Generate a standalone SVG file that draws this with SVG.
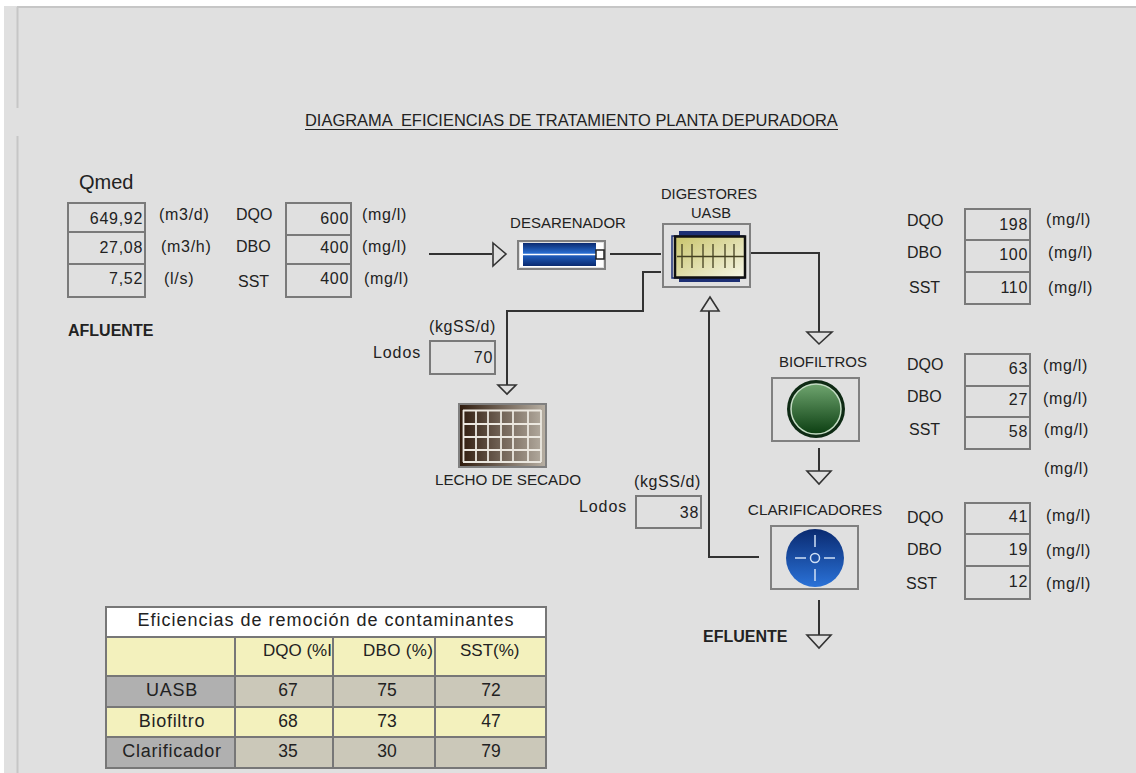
<svg xmlns="http://www.w3.org/2000/svg" width="1136" height="773" viewBox="0 0 1136 773">
<style>
text{font-family:"Liberation Sans",Arial,sans-serif;font-size:16px;fill:#222}
.e{text-anchor:end}.m{text-anchor:middle}
.v{letter-spacing:.7px}
.u{letter-spacing:.7px}
.n{font-size:15px}
.b{font-weight:bold;font-size:16px}
.r{font-size:18px;letter-spacing:.7px}
.k{font-size:17.500px}
.hd{font-size:17px}
.box{fill:#e0e0e0;stroke:#7a7a7a;stroke-width:2}
.icon{fill:#e0e0e0;stroke:#808080;stroke-width:2}
.c{fill:none;stroke:#333;stroke-width:2}
.h{fill:#e0e0e0;stroke:#333;stroke-width:1.6}
.t{stroke:#777;stroke-width:2}
.y{fill:#f3f1bd}.g{fill:#cbc8b9}.d{fill:#b0b0b0}
</style>
<defs>
<linearGradient id="blue" x1="0" y1="0" x2="0" y2="1"><stop offset="0" stop-color="#0a2a70"/><stop offset="1" stop-color="#2a72d8"/></linearGradient>
<linearGradient id="blue2" x1="0" y1="0" x2="0" y2="1"><stop offset="0" stop-color="#2060c0"/><stop offset="1" stop-color="#0a2a70"/></linearGradient>
<linearGradient id="yel" x1="0" y1="0" x2="1" y2="1"><stop offset="0" stop-color="#c9c46a"/><stop offset="1" stop-color="#f6f6e8"/></linearGradient>
<linearGradient id="grn" x1="0" y1="0" x2="0" y2="1"><stop offset="0" stop-color="#6fa56f"/><stop offset="1" stop-color="#0c3f12"/></linearGradient>
<linearGradient id="brn" x1="0" y1="0" x2="1" y2="0"><stop offset="0" stop-color="#2e1a0c"/><stop offset="1" stop-color="#b8b0a4"/></linearGradient>
</defs>
<rect width="1136" height="773" fill="#fff"/>
<rect x="4" y="6" width="1132" height="767" fill="#e0e0e0"/>
<path d="M17 7H1136" stroke="#c6c6c6" stroke-width="2" fill="none"/>
<path d="M17.500 7V108M17.500 136V773" stroke="#c6c6c6" stroke-width="2" fill="none"/>

<text id="title" x="305" y="126" style="font-size:16.450px;white-space:pre">DIAGRAMA  EFICIENCIAS DE TRATAMIENTO PLANTA DEPURADORA</text>
<path d="M305 129.500H838" stroke="#222" stroke-width="1"/>

<g id="afluente">
<text x="79" y="189" style="font-size:20px">Qmed</text>
<rect class="box" x="68" y="203" width="77" height="94"/>
<path class="box" d="M68 232H145M68 264H145"/>
<text class="e v" x="143" y="224">649,92</text><text class="e v" x="143" y="253">27,08</text><text class="e v" x="143" y="284">7,52</text>
<text class="u" x="159" y="220">(m3/d)</text><text class="u" x="161" y="252">(m3/h)</text><text class="u" x="164" y="284">(l/s)</text>
<text x="236" y="220">DQO</text><text x="236" y="252">DBO</text><text x="238" y="287">SST</text>
<rect class="box" x="286" y="203" width="65" height="94"/>
<path class="box" d="M286 235H351M286 264H351"/>
<text class="e v" x="349" y="224">600</text><text class="e v" x="349" y="253">400</text><text class="e v" x="349" y="284">400</text>
<text class="u" x="362" y="220">(mg/l)</text><text class="u" x="362" y="252">(mg/l)</text><text class="u" x="364" y="284">(mg/l)</text>
<text class="b" x="68" y="336">AFLUENTE</text>
</g>

<g id="connectors">
<path class="c" d="M429 254H492"/><path class="h" d="M493 243L506 254L493 266Z"/>
<path class="c" d="M610 254H661"/>
<path class="c" d="M661 272H643V311H507V385"/><path class="h" d="M498 385H516L507 394Z"/>
<path class="c" d="M751 253H819V333"/><path class="h" d="M807 332H832L819 344Z"/>
<path class="c" d="M709 311V557H759"/><path class="h" d="M701 311H719L710 297Z"/>
<path class="c" d="M819 448V472"/><path class="h" d="M807 471H831L819 484Z"/>
<path class="c" d="M819 600V636"/><path class="h" d="M807 635H831L819 648Z"/>
</g>

<g id="desarenador">
<text class="m n" x="568" y="228">DESARENADOR</text>
<rect class="icon" x="518" y="241" width="87" height="28"/>
<rect x="520" y="243" width="83" height="24" fill="#fff"/>
<rect x="523" y="243" width="73" height="11" fill="url(#blue)"/><rect x="523" y="255" width="73" height="11" fill="url(#blue2)"/>
<path d="M523 254.500H596" stroke="#fff" stroke-width="1.500"/>
<rect x="596" y="250" width="8" height="9" fill="#fff" stroke="#222" stroke-width="1.500"/>
</g>

<g id="uasb">
<text class="m" x="709" y="199" style="font-size:14.700px">DIGESTORES</text><text class="m" x="711" y="218" style="font-size:14.700px">UASB</text>
<rect class="icon" x="663" y="224" width="87" height="63"/>
<rect x="679" y="231" width="61" height="51" fill="#1d2f74"/>
<rect x="672" y="236" width="72" height="42" fill="#e0e0e0" stroke="#1d2f74" stroke-width="1.500"/>
<rect x="675" y="236.500" width="70" height="41" fill="url(#yel)" stroke="#111" stroke-width="2.500"/>
<path d="M677 256.500H744M682 244V268M692 244V268M703 244V268M713 244V268M725 244V268M734 244V268" stroke="#444021" stroke-width="1.300"/>
</g>

<g id="lecho">
<rect x="459" y="404" width="87" height="63" fill="url(#brn)" stroke="#808080" stroke-width="2"/>
<path d="M463.500 410V462M476 410V462M488 410V462M501 410V462M513 410V462M528 410V462M541 410V462M463 410.500H541M463 424H541M463 437H541M463 450H541M463 462H541" stroke="#ece8e0" stroke-width="1.800" fill="none"/>
<text class="m" x="508" y="485" style="font-size:15.200px">LECHO DE SECADO</text>
</g>
<g id="lodos1">
<text x="429" y="332" style="letter-spacing:.6px">(kgSS/d)</text><text x="373" y="358" style="letter-spacing:.9px">Lodos</text>
<rect class="box" x="430" y="341" width="65" height="33"/>
<text class="e v" x="493" y="363">70</text>
</g>

<g id="biofiltros">
<text class="m n" x="823" y="367">BIOFILTROS</text>
<rect class="icon" x="772" y="378" width="87" height="63"/>
<circle cx="816" cy="409" r="29" fill="#0e2a14"/><circle cx="816" cy="409" r="25" fill="url(#grn)" stroke="#c4dcc4" stroke-width="1.500"/>
</g>

<g id="clarificadores">
<text class="m" x="815" y="515" style="font-size:15.300px">CLARIFICADORES</text>
<rect class="icon" x="771" y="526" width="87" height="63"/>
<circle cx="815" cy="558" r="29" fill="url(#blue)"/>
<circle cx="815" cy="558" r="4.500" fill="none" stroke="#cfe0f5" stroke-width="1.500"/>
<path d="M815 535V547M815 569V581M795 558H806M824 558H835" stroke="#cfe0f5" stroke-width="1.500"/>
</g>
<g id="lodos2">
<text x="634" y="487" style="letter-spacing:.6px">(kgSS/d)</text><text x="579" y="512" style="letter-spacing:.9px">Lodos</text>
<rect class="box" x="636" y="496" width="65" height="32"/>
<text class="e v" x="699" y="518">38</text>
</g>
<text id="efluente" class="b" x="703" y="642">EFLUENTE</text>

<g id="res1">
<text x="907" y="226">DQO</text><text x="907" y="258">DBO</text><text x="909" y="293">SST</text>
<rect class="box" x="965" y="209" width="65" height="95"/>
<path class="box" d="M965 240H1030M965 272H1030"/>
<text class="e v" x="1028" y="230">198</text><text class="e v" x="1028" y="260">100</text><text class="e v" x="1028" y="293">110</text>
<text class="u" x="1046" y="225">(mg/l)</text><text class="u" x="1048" y="258">(mg/l)</text><text class="u" x="1048" y="293">(mg/l)</text>
</g>
<g id="res2">
<text x="907" y="370">DQO</text><text x="907" y="402">DBO</text><text x="909" y="435">SST</text>
<rect class="box" x="965" y="354" width="65" height="95"/>
<path class="box" d="M965 386H1030M965 417H1030"/>
<text class="e v" x="1028" y="374">63</text><text class="e v" x="1028" y="405">27</text><text class="e v" x="1028" y="437">58</text>
<text class="u" x="1043" y="371">(mg/l)</text><text class="u" x="1043" y="404">(mg/l)</text><text class="u" x="1044" y="435">(mg/l)</text><text class="u" x="1044" y="474">(mg/l)</text>
</g>
<g id="res3">
<text x="907" y="523">DQO</text><text x="907" y="555">DBO</text><text x="906" y="589">SST</text>
<rect class="box" x="965" y="503" width="65" height="96"/>
<path class="box" d="M965 534H1030M965 566H1030"/>
<text class="e v" x="1028" y="522">41</text><text class="e v" x="1028" y="555">19</text><text class="e v" x="1028" y="587">12</text>
<text class="u" x="1046" y="521">(mg/l)</text><text class="u" x="1046" y="556">(mg/l)</text><text class="u" x="1046" y="589">(mg/l)</text>
</g>

<g id="tabla">
<rect x="106" y="607" width="440" height="30" fill="#fff"/>
<rect class="y" x="106" y="637" width="440" height="39"/>
<rect class="g" x="235" y="676" width="311" height="31"/><rect class="d" x="106" y="676" width="129" height="31"/>
<rect class="y" x="106" y="707" width="440" height="30"/>
<rect class="g" x="235" y="737" width="311" height="31"/><rect class="d" x="106" y="737" width="129" height="31"/>
<path class="t" fill="none" d="M106 607H546V768H106ZM106 637H546M106 676H546M106 707H546M106 737H546M235 637V768M333 637V768M435 637V768"/>
<text class="m" x="326" y="626" style="font-size:18px;letter-spacing:1px">Eficiencias de remoción de contaminantes</text>
<text class="hd" x="263" y="656">DQO (%I</text><text class="hd" x="363" y="656" style="letter-spacing:.3px">DBO (%)</text><text class="hd" x="460" y="656">SST(%)</text>
<text class="m r" x="172" y="696">UASB</text><text class="m k" x="288" y="696">67</text><text class="m k" x="387" y="696">75</text><text class="m k" x="491" y="696">72</text>
<text class="m r" x="172" y="727">Biofiltro</text><text class="m k" x="288" y="727">68</text><text class="m k" x="387" y="727">73</text><text class="m k" x="491" y="727">47</text>
<text class="m r" x="172" y="757">Clarificador</text><text class="m k" x="288" y="757">35</text><text class="m k" x="387" y="757">30</text><text class="m k" x="491" y="757">79</text>
</g>
</svg>
